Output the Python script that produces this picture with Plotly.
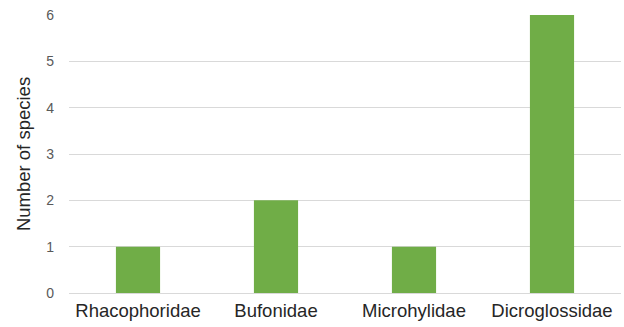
import plotly.graph_objects as go

families = ["Rhacophoridae", "Bufonidae", "Microhylidae", "Dicroglossidae"]
species_counts = [1, 2, 1, 6]
y_ticks = [0, 1, 2, 3, 4, 5, 6]

fig = go.Figure(
    go.Bar(
        x=families,
        y=species_counts,
        marker=dict(color="#70AD47", line=dict(width=0)),
        width=0.32,
    )
)

fig.update_layout(
    width=624,
    height=327,
    margin=dict(l=69, r=3, t=15, b=34),
    plot_bgcolor="white",
    paper_bgcolor="white",
    showlegend=False,
    font=dict(family="Liberation Sans, Arial, sans-serif"),
)

fig.update_xaxes(
    showgrid=False,
    showline=False,
    ticks="",
    ticklabelstandoff=4,
    tickfont=dict(size=18.5, color="#262626"),
)

fig.update_yaxes(
    range=[0, 6],
    tickvals=y_ticks,
    showgrid=True,
    gridcolor="#D9D9D9",
    gridwidth=1,
    zeroline=True,
    zerolinecolor="#D9D9D9",
    zerolinewidth=1,
    showline=False,
    ticks="",
    ticklabelstandoff=14,
    tickfont=dict(size=14, color="#595959"),
    title=dict(text="Number of species", font=dict(size=18.5, color="#262626"), standoff=10),
)

fig.write_html("out.html")
